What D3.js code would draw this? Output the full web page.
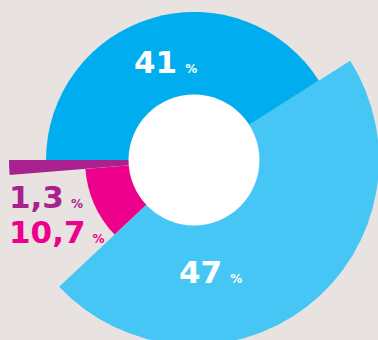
<!DOCTYPE html>
<html><head><meta charset="utf-8">
<script src="https://cdn.jsdelivr.net/npm/d3@7"></script>
<style>html,body{margin:0;padding:0;background:#e8e3e1;}svg{display:block;}</style>
</head><body>
<script>
const categories = ["A", "B", "C", "D"];
const values = [41, 47, 10.7, 1.3];
const labels = ["41", "47", "10,7", "1,3"];
const radii = [148, 185, 109, 185];
const colors = ["#00adee", "#45c6f4", "#ec008c", "#a8218e"];

const W = 378, H = 340, cx = 194, cy = 160;
const svg = d3.select("body").append("svg").attr("width", W).attr("height", H);
svg.append("rect").attr("width", W).attr("height", H).attr("fill", "#e8e3e1");
const g = svg.append("g").attr("transform", `translate(${cx},${cy})`);

const pie = d3.pie().sort(null).value(d => d)
  .startAngle(-Math.PI / 2).endAngle(1.5 * Math.PI);
const arcs = pie(values);
g.selectAll("path.slice").data(arcs).join("path")
  .attr("class", "slice")
  .attr("fill", (d, i) => colors[i])
  .attr("d", (d, i) => d3.arc().innerRadius(0).outerRadius(radii[i])(d));
g.append("circle").attr("r", 65.5).attr("fill", "#ffffff");

const font = "DejaVu Sans, Verdana, sans-serif";
const labelPos = [
  {x: 134, y: 73, fill: "#ffffff", pctDx: 8},
  {x: 179, y: 283, fill: "#ffffff", pctDx: 8},
  {x: 9, y: 243, fill: "#ec008c", pctDx: 7},
  {x: 9, y: 208, fill: "#a8218e", pctDx: 7}
];
labels.forEach((t, i) => {
  const p = labelPos[i];
  const txt = svg.append("text").attr("x", p.x).attr("y", p.y)
    .attr("font-family", font).attr("font-weight", "bold").attr("fill", p.fill);
  txt.append("tspan").attr("font-size", 31).text(t);
  txt.append("tspan").attr("font-size", 12).attr("dx", p.pctDx).text("%");
});
</script>
</body></html>
